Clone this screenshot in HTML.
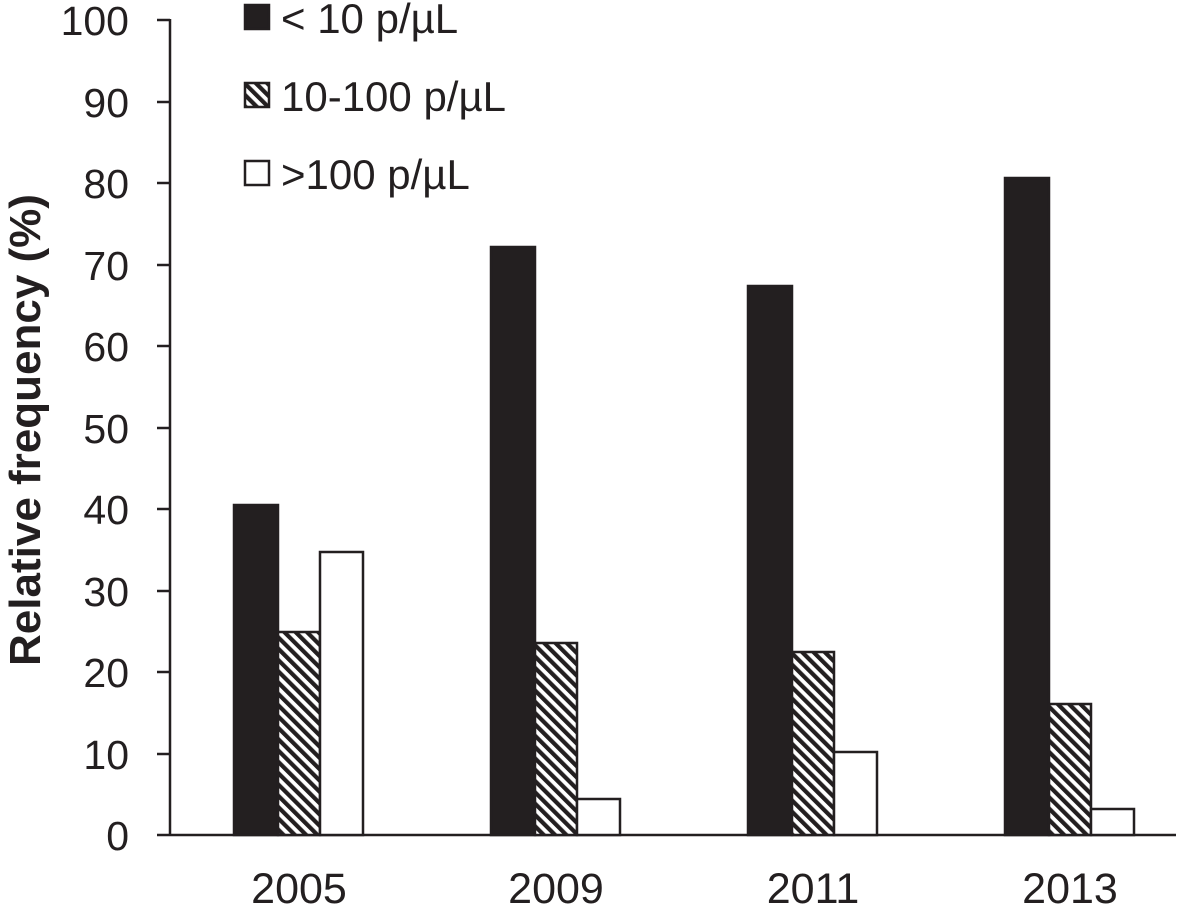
<!DOCTYPE html>
<html><head><meta charset="utf-8"><style>
html,body{margin:0;padding:0;background:#fff;}
</style></head><body>
<svg width="1200" height="905" xmlns="http://www.w3.org/2000/svg" font-family="Liberation Sans, sans-serif">
<defs>
<pattern id="h" patternUnits="userSpaceOnUse" width="8" height="8" patternTransform="rotate(-45)">
<rect width="8" height="8" fill="#fff"/>
<rect width="4.2" height="8" fill="#231f20"/>
</pattern>
</defs>
<g fill="#231f20" font-size="41" text-anchor="end">
<text x="129" y="35">100</text>
<text x="129" y="117">90</text>
<text x="129" y="198">80</text>
<text x="129" y="280">70</text>
<text x="129" y="361">60</text>
<text x="129" y="443">50</text>
<text x="129" y="524">40</text>
<text x="129" y="606">30</text>
<text x="129" y="687">20</text>
<text x="129" y="769">10</text>
<text x="129" y="850">0</text>
</g>
<text transform="translate(40,430) rotate(-90)" text-anchor="middle" font-size="44" font-weight="bold" fill="#231f20">Relative frequency (%)</text>
<g stroke="#231f20" stroke-width="2.5">
<line x1="170" y1="19" x2="170" y2="836"/>
<line x1="157" y1="835" x2="1176" y2="835"/>
<line x1="157" y1="20" x2="170" y2="20"/>
<line x1="157" y1="102" x2="170" y2="102"/>
<line x1="157" y1="183" x2="170" y2="183"/>
<line x1="157" y1="265" x2="170" y2="265"/>
<line x1="157" y1="346" x2="170" y2="346"/>
<line x1="157" y1="428" x2="170" y2="428"/>
<line x1="157" y1="509" x2="170" y2="509"/>
<line x1="157" y1="591" x2="170" y2="591"/>
<line x1="157" y1="672" x2="170" y2="672"/>
<line x1="157" y1="754" x2="170" y2="754"/>
</g>
<g stroke="#231f20" stroke-width="2.5">
<rect x="234" y="505" width="44" height="330" fill="#231f20"/>
<rect x="278" y="632" width="42" height="203" fill="url(#h)"/>
<rect x="320" y="552" width="43" height="283" fill="#fff"/>
<rect x="491" y="247" width="44" height="588" fill="#231f20"/>
<rect x="535" y="643" width="42" height="192" fill="url(#h)"/>
<rect x="577" y="799" width="43" height="36" fill="#fff"/>
<rect x="748" y="286" width="44" height="549" fill="#231f20"/>
<rect x="792" y="652" width="42" height="183" fill="url(#h)"/>
<rect x="834" y="752" width="43" height="83" fill="#fff"/>
<rect x="1005" y="178" width="44" height="657" fill="#231f20"/>
<rect x="1049" y="704" width="42" height="131" fill="url(#h)"/>
<rect x="1091" y="809" width="43" height="26" fill="#fff"/>
</g>
<g fill="#231f20" font-size="43" text-anchor="middle">
<text x="299" y="903">2005</text>
<text x="556" y="903">2009</text>
<text x="813" y="903">2011</text>
<text x="1070" y="903">2013</text>
</g>
<g stroke="#231f20" stroke-width="2.5">
<rect x="245" y="5" width="24" height="24" fill="#231f20"/>
<rect x="245" y="83" width="24" height="24" fill="url(#h)"/>
<rect x="245" y="161" width="24" height="24" fill="#fff"/>
</g>
<g fill="#231f20" font-size="42">
<text x="281" y="33">&lt; 10 p/µL</text>
<text x="281" y="111">10-100 p/µL</text>
<text x="281" y="189">&gt;100 p/µL</text>
</g>
</svg>
</body></html>
